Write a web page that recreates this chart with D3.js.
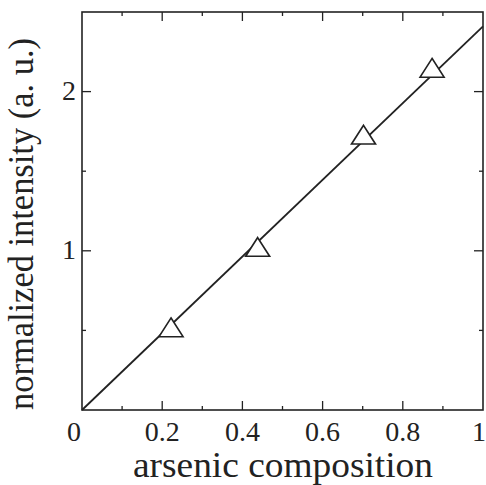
<!DOCTYPE html>
<html>
<head>
<meta charset="utf-8">
<script src="https://cdn.jsdelivr.net/npm/d3@7"></script>
<style>
  body { margin: 0; background: #fff; }
  svg { display: block; }
  text { font-family: "Liberation Serif", "DejaVu Serif", serif; fill: #222; }
</style>
</head>
<body>
<svg></svg>
<script>
// measured points
var composition = [0.222, 0.438, 0.702, 0.873];
var intensity = [0.50, 1.005, 1.71, 2.13];
// fitted line through origin
var fitX = [0, 1];
var fitY = [0, 2.41];

var xTicks = [0, 0.2, 0.4, 0.6, 0.8, 1];
var xTickLabels = ["0", "0.2", "0.4", "0.6", "0.8", "1"];
var xMinor = [0.1, 0.3, 0.5, 0.7, 0.9];
var yTicks = [1, 2];
var yMinor = [0.5, 1.5];

let width = 486, height = 485;
let mLeft = 82, mRight = 483, mTop = 12, mBottom = 410;

let svg = d3.select("svg")
    .attr("width", width)
    .attr("height", height);

let x = d3.scaleLinear().domain([0, 1]).range([mLeft, mRight]);
let y = d3.scaleLinear().domain([0, 2.5]).range([mBottom, mTop]);

let ink = "#222";

// ticks on all four sides, pointing inward
function drawTicks(vals, len) {
    vals.forEach(v => {
        svg.append("line").attr("x1", x(v)).attr("x2", x(v))
            .attr("y1", mBottom).attr("y2", mBottom - len)
            .attr("stroke", ink).attr("stroke-width", 1.3);
        svg.append("line").attr("x1", x(v)).attr("x2", x(v))
            .attr("y1", mTop).attr("y2", mTop + len)
            .attr("stroke", ink).attr("stroke-width", 1.3);
    });
}
function drawYTicks(vals, len) {
    vals.forEach(v => {
        svg.append("line").attr("x1", mLeft).attr("x2", mLeft + len)
            .attr("y1", y(v)).attr("y2", y(v))
            .attr("stroke", ink).attr("stroke-width", 1.3);
        svg.append("line").attr("x1", mRight).attr("x2", mRight - len)
            .attr("y1", y(v)).attr("y2", y(v))
            .attr("stroke", ink).attr("stroke-width", 1.3);
    });
}
drawTicks(xTicks.slice(1, -1), 9);
drawTicks(xMinor, 4);
drawYTicks(yTicks, 9);
drawYTicks(yMinor, 4);

// frame
svg.append("rect")
    .attr("x", mLeft).attr("y", mTop)
    .attr("width", mRight - mLeft).attr("height", mBottom - mTop)
    .attr("fill", "none").attr("stroke", ink).attr("stroke-width", 1.6);

// fit line
let line = d3.line().x(d => x(d[0])).y(d => y(d[1]));
svg.append("path")
    .attr("d", line(d3.zip(fitX, fitY)))
    .attr("fill", "none").attr("stroke", ink).attr("stroke-width", 1.8);

// triangle markers
let tri = d3.symbol().type(d3.symbolTriangle).size(250);
svg.selectAll("path.pt")
    .data(d3.zip(composition, intensity))
    .enter()
    .append("path")
    .attr("class", "pt")
    .attr("d", tri)
    .attr("transform", d => "translate(" + x(d[0]) + "," + y(d[1]) + ") scale(1,0.9)")
    .attr("fill", "#fff").attr("stroke", ink).attr("stroke-width", 1.7);

// x tick labels
xTicks.forEach((v, i) => {
    svg.append("text")
        .attr("x", i == 0 ? x(v) - 8 : (i == xTicks.length - 1 ? width : x(v)))
        .attr("y", 441)
        .attr("text-anchor", i == xTicks.length - 1 ? "end" : "middle")
        .style("font-size", "28px")
        .text(xTickLabels[i]);
});

// y tick labels
yTicks.forEach(v => {
    svg.append("text")
        .attr("x", 76)
        .attr("y", y(v) + 8)
        .attr("text-anchor", "end")
        .style("font-size", "28px")
        .text(v);
});

// axis titles
svg.append("text")
    .attr("x", 283).attr("y", 477)
    .attr("text-anchor", "middle")
    .attr("textLength", 300)
    .attr("lengthAdjust", "spacingAndGlyphs")
    .style("font-size", "36px")
    .text("arsenic composition");

svg.append("text")
    .attr("transform", "translate(33,224) rotate(-90)")
    .attr("text-anchor", "middle")
    .attr("textLength", 372)
    .attr("lengthAdjust", "spacingAndGlyphs")
    .style("font-size", "36px")
    .text("normalized intensity (a. u.)");
</script>
</body>
</html>
